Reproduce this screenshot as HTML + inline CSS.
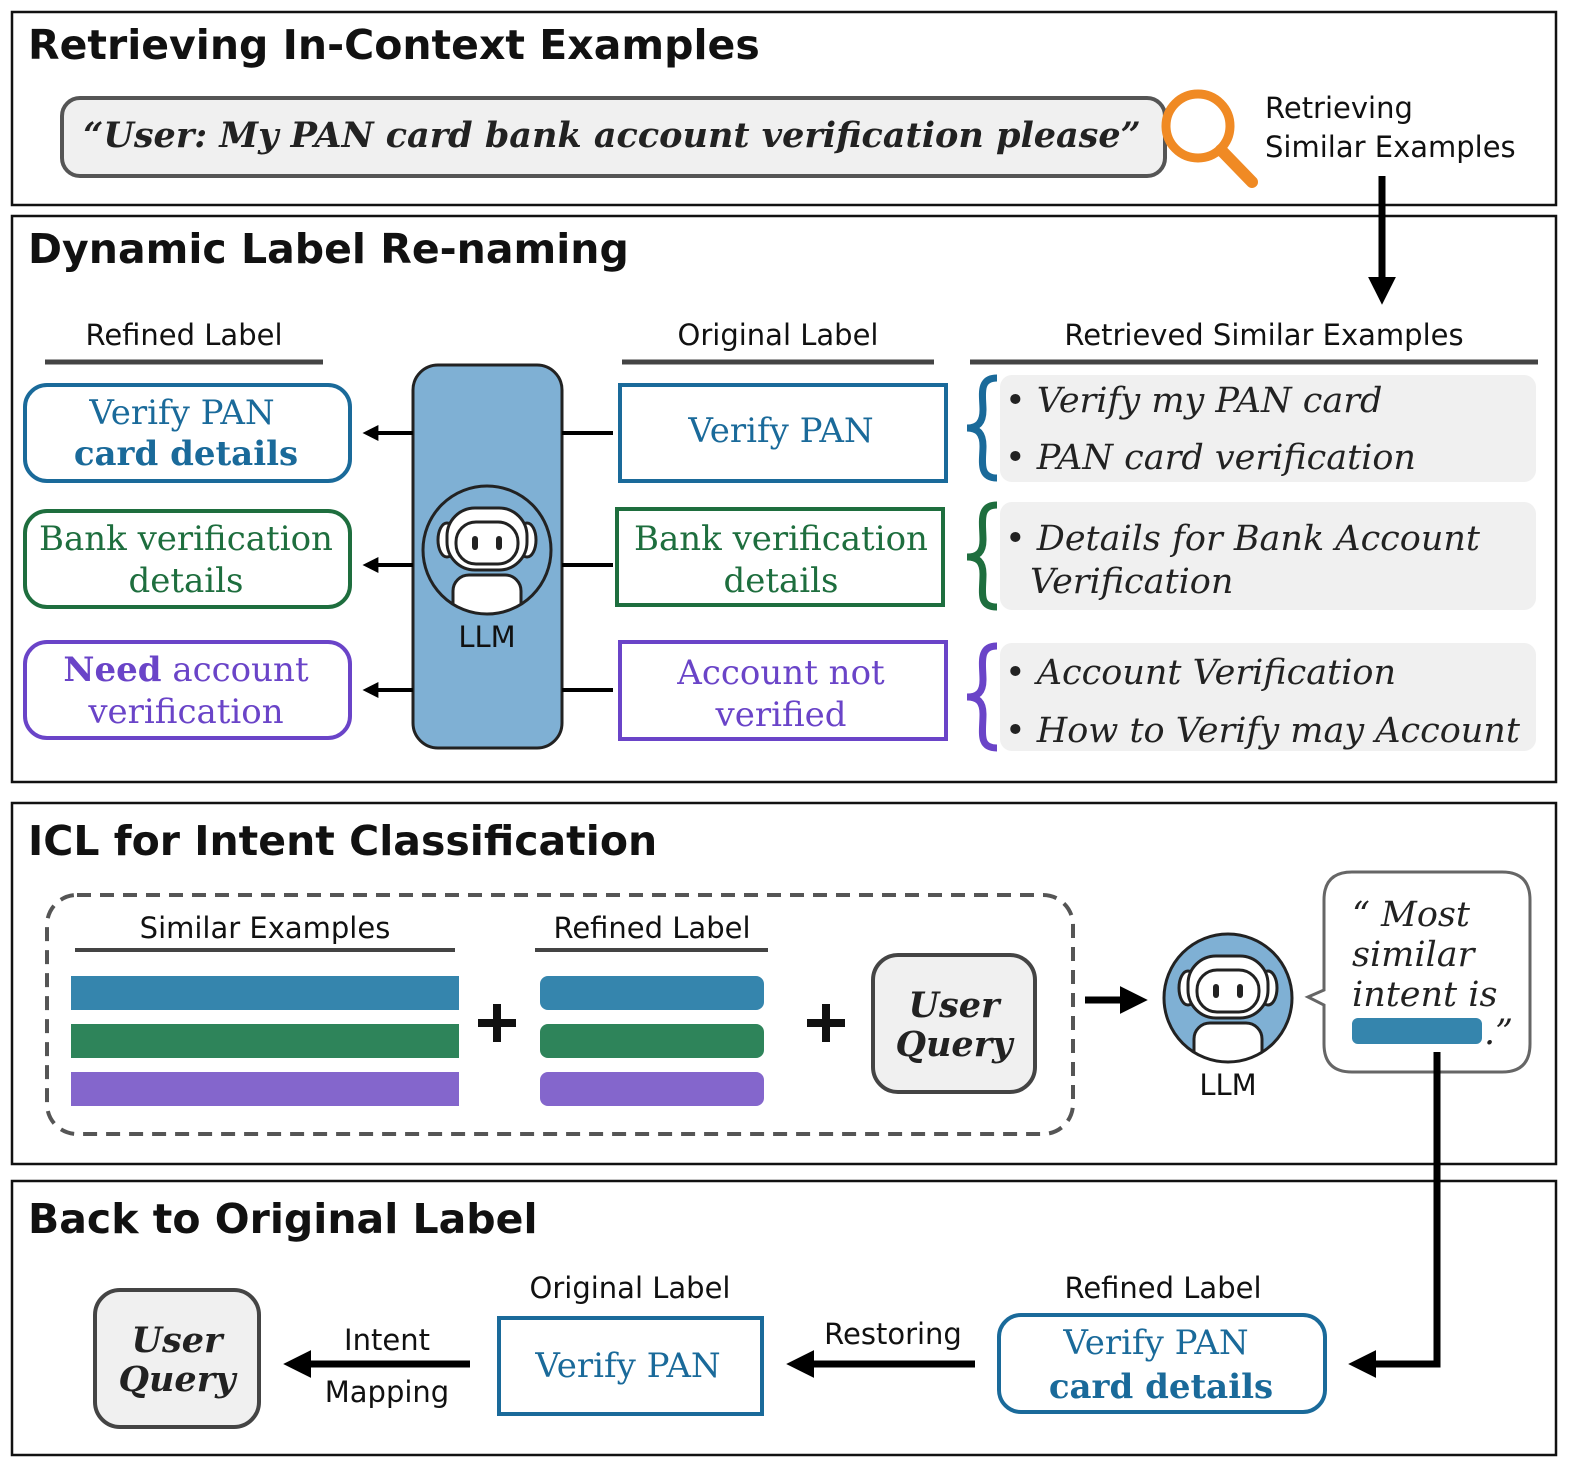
<!DOCTYPE html>
<html><head><meta charset="utf-8"><style>
html,body{margin:0;padding:0;background:#fff}
svg{display:block}
.h{font-family:"DejaVu Sans","Liberation Sans",sans-serif;font-weight:bold;font-size:41px;fill:#111}
.s{font-family:"DejaVu Sans","Liberation Sans",sans-serif;font-size:29px;fill:#111}
.sf{font-family:"DejaVu Serif","Liberation Serif",serif;font-size:34px}
.it{font-family:"DejaVu Serif","Liberation Serif",serif;font-style:italic;font-size:35px;fill:#222}
</style></head><body>
<svg width="1578" height="1480" viewBox="0 0 1578 1480" xmlns="http://www.w3.org/2000/svg">
<defs>
<marker id="ah" markerWidth="4" markerHeight="4" refX="2.6" refY="2" orient="auto" markerUnits="strokeWidth"><path d="M0,0 L4,2 L0,4 Z" fill="#000"/></marker>
<g id="robot">
<clipPath id="cc"><circle cx="0" cy="0" r="63"/></clipPath>
<g clip-path="url(#cc)" stroke="#222" stroke-width="3" fill="#fff">
<rect x="-34" y="25" width="68" height="60" rx="16"/>
</g>
<circle cx="0" cy="0" r="64" fill="none" stroke="#222" stroke-width="3"/>
<g stroke="#222" stroke-width="3" fill="#fff">
<ellipse cx="-40" cy="-10" rx="9" ry="17"/>
<ellipse cx="40" cy="-10" rx="9" ry="17"/>
<rect x="-40" y="-42" width="80" height="62" rx="28"/>
<rect x="-31" y="-28" width="62" height="42" rx="20"/>
</g>
<rect x="-15" y="-14" width="6" height="14" rx="3" fill="#222"/>
<rect x="9" y="-14" width="6" height="14" rx="3" fill="#222"/>
</g>
</defs>
<g fill="none" stroke="#111" stroke-width="2.5">
<rect x="12" y="12" width="1544" height="193"/>
<rect x="12" y="216" width="1544" height="566"/>
<rect x="12" y="803" width="1544" height="361"/>
<rect x="12" y="1181" width="1544" height="274"/>
</g>
<!-- Panel 1 -->
<text class="h" x="28" y="59">Retrieving In-Context Examples</text>
<rect x="62" y="98" width="1103" height="78" rx="18" fill="#f0f0f0" stroke="#555" stroke-width="4"/>
<text class="it" x="612" y="147" text-anchor="middle" font-weight="bold" font-size="32">“User: My PAN card bank account verification please”</text>
<circle cx="1198" cy="126" r="32" fill="none" stroke="#f08a24" stroke-width="9"/>
<line x1="1221" y1="150" x2="1252" y2="182" stroke="#f08a24" stroke-width="12" stroke-linecap="round"/>
<text class="s" x="1265" y="118">Retrieving</text>
<text class="s" x="1265" y="157">Similar Examples</text>
<line x1="1382" y1="176" x2="1382" y2="295" stroke="#000" stroke-width="7" marker-end="url(#ah)"/>
<!-- Panel 2 -->
<text class="h" x="28" y="263">Dynamic Label Re-naming</text>
<text class="s" x="184" y="345" text-anchor="middle">Refined Label</text>
<text class="s" x="778" y="345" text-anchor="middle">Original Label</text>
<text class="s" x="1264" y="345" text-anchor="middle">Retrieved Similar Examples</text>
<g stroke="#444" stroke-width="5">
<line x1="45" y1="362" x2="323" y2="362"/><line x1="622" y1="362" x2="934" y2="362"/><line x1="970" y1="362" x2="1538" y2="362"/>
</g>
<g fill="#fff" stroke-width="4">
<rect x="25" y="385" width="325" height="96" rx="22" stroke="#1a6a9a"/>
<rect x="25" y="511" width="325" height="96" rx="22" stroke="#1e6e3e"/>
<rect x="25" y="642" width="325" height="96" rx="22" stroke="#6a44c8"/>
<rect x="620" y="385" width="326" height="96" stroke="#1a6a9a"/>
<rect x="617" y="509" width="326" height="96" stroke="#1e6e3e"/>
<rect x="620" y="642" width="326" height="97" stroke="#6a44c8"/>
</g>
<text class="sf" x="182" y="424" text-anchor="middle" fill="#1a6a9a">Verify PAN</text>
<text class="sf" x="186" y="465" text-anchor="middle" fill="#1a6a9a" font-weight="bold">card details</text>
<text class="sf" x="186" y="550" text-anchor="middle" fill="#1e6e3e">Bank verification</text>
<text class="sf" x="186" y="592" text-anchor="middle" fill="#1e6e3e">details</text>
<text class="sf" x="186" y="681" text-anchor="middle" fill="#6a44c8"><tspan font-weight="bold">Need</tspan> account</text>
<text class="sf" x="186" y="723" text-anchor="middle" fill="#6a44c8">verification</text>
<text class="sf" x="781" y="442" text-anchor="middle" fill="#1a6a9a">Verify PAN</text>
<text class="sf" x="781" y="550" text-anchor="middle" fill="#1e6e3e">Bank verification</text>
<text class="sf" x="781" y="592" text-anchor="middle" fill="#1e6e3e">details</text>
<text class="sf" x="781" y="684" text-anchor="middle" fill="#6a44c8">Account not</text>
<text class="sf" x="781" y="726" text-anchor="middle" fill="#6a44c8">verified</text>
<rect x="413" y="365" width="149" height="383" rx="25" fill="#7fb0d4" stroke="#222" stroke-width="3"/>
<g transform="translate(487,550)"><use href="#robot"/></g>
<text class="s" x="487" y="647" text-anchor="middle" fill="#222">LLM</text>
<g stroke="#000" stroke-width="4">
<line x1="562" y1="433" x2="613" y2="433"/><line x1="562" y1="565" x2="613" y2="565"/><line x1="562" y1="690" x2="613" y2="690"/>
<line x1="413" y1="433" x2="368" y2="433" marker-end="url(#ah)"/>
<line x1="413" y1="565" x2="368" y2="565" marker-end="url(#ah)"/>
<line x1="413" y1="690" x2="368" y2="690" marker-end="url(#ah)"/>
</g>
<g fill="#f0f0f0">
<rect x="1000" y="375" width="536" height="107" rx="12"/>
<rect x="1000" y="502" width="536" height="108" rx="12"/>
<rect x="1000" y="643" width="536" height="108" rx="12"/>
</g>
<g fill="none" stroke-width="7">
<path d="M997,378 C978,378 983,396 983,410 C983,422 978,428 967,428 C978,428 983,434 983,446 C983,460 978,478 997,478" stroke="#1a6a9a"/>
<path d="M997,505 C978,505 983,523 983,540 C983,552 978,557 967,557 C978,557 983,562 983,574 C983,592 978,607 997,607" stroke="#1e6e3e"/>
<path d="M997,646 C978,646 983,664 983,680 C983,692 978,697 967,697 C978,697 983,702 983,714 C983,732 978,748 997,748" stroke="#6a44c8"/>
</g>
<text class="it" x="1005" y="412">• Verify my PAN card</text>
<text class="it" x="1005" y="469">• PAN card verification</text>
<text class="it" x="1005" y="550">• Details for Bank Account</text>
<text class="it" x="1030" y="593">Verification</text>
<text class="it" x="1005" y="684">• Account Verification</text>
<text class="it" x="1005" y="742">• How to Verify may Account</text>
<!-- Panel 3 -->
<text class="h" x="28" y="855">ICL for Intent Classification</text>
<rect x="47" y="895" width="1026" height="239" rx="30" fill="none" stroke="#555" stroke-width="4" stroke-dasharray="14,9"/>
<text class="s" x="265" y="938" text-anchor="middle">Similar Examples</text>
<text class="s" x="652" y="938" text-anchor="middle">Refined Label</text>
<g stroke="#444" stroke-width="4"><line x1="75" y1="950" x2="455" y2="950"/><line x1="535" y1="950" x2="768" y2="950"/></g>
<rect x="71" y="976" width="388" height="34" fill="#3585ad"/>
<rect x="71" y="1024" width="388" height="34" fill="#2e845a"/>
<rect x="71" y="1072" width="388" height="34" fill="#8466cc"/>
<rect x="540" y="976" width="224" height="34" rx="8" fill="#3585ad"/>
<rect x="540" y="1024" width="224" height="34" rx="8" fill="#2e845a"/>
<rect x="540" y="1072" width="224" height="34" rx="8" fill="#8466cc"/>
<g stroke="#111" stroke-width="8"><line x1="478" y1="1023" x2="516" y2="1023"/><line x1="497" y1="1004" x2="497" y2="1042"/>
<line x1="807" y1="1023" x2="845" y2="1023"/><line x1="826" y1="1004" x2="826" y2="1042"/></g>
<rect x="873" y="955" width="162" height="137" rx="25" fill="#f0f0f0" stroke="#444" stroke-width="4"/>
<text class="it" x="954" y="1017" text-anchor="middle" font-weight="bold" font-size="30">User</text>
<text class="it" x="954" y="1056" text-anchor="middle" font-weight="bold" font-size="30">Query</text>
<line x1="1085" y1="1000" x2="1138" y2="1000" stroke="#000" stroke-width="7" marker-end="url(#ah)"/>
<circle cx="1228" cy="998" r="64" fill="#7fb0d4"/>
<g transform="translate(1228,998)"><use href="#robot"/></g>
<text class="s" x="1228" y="1095" text-anchor="middle" fill="#222">LLM</text>
<path d="M1352,872 H1502 Q1530,872 1530,900 V1044 Q1530,1072 1502,1072 H1352 Q1324,1072 1324,1044 V1005 L1308,997 L1324,990 V900 Q1324,872 1352,872 Z" fill="#fff" stroke="#666" stroke-width="3"/>
<text class="it" x="1352" y="926" font-size="32">“ Most</text>
<text class="it" x="1352" y="966" font-size="32">similar</text>
<text class="it" x="1352" y="1006" font-size="32">intent is</text>
<rect x="1352" y="1018" width="130" height="26" rx="6" fill="#3585ad"/>
<text class="it" x="1484" y="1044" font-size="30">.”</text>
<!-- Panel 4 -->
<text class="h" x="28" y="1233">Back to Original Label</text>
<polyline points="1437,1052 1437,1364 1358,1364" fill="none" stroke="#000" stroke-width="7" marker-end="url(#ah)"/>
<rect x="95" y="1290" width="164" height="137" rx="25" fill="#f0f0f0" stroke="#444" stroke-width="4"/>
<text class="it" x="177" y="1352" text-anchor="middle" font-weight="bold" font-size="30">User</text>
<text class="it" x="177" y="1391" text-anchor="middle" font-weight="bold" font-size="30">Query</text>
<line x1="470" y1="1364" x2="293" y2="1364" stroke="#000" stroke-width="7" marker-end="url(#ah)"/>
<text class="s" x="387" y="1350" text-anchor="middle">Intent</text>
<text class="s" x="387" y="1402" text-anchor="middle">Mapping</text>
<text class="s" x="630" y="1298" text-anchor="middle">Original Label</text>
<rect x="499" y="1318" width="263" height="96" fill="#fff" stroke="#1a6a9a" stroke-width="4"/>
<text class="sf" x="628" y="1377" text-anchor="middle" fill="#1a6a9a">Verify PAN</text>
<line x1="975" y1="1364" x2="796" y2="1364" stroke="#000" stroke-width="7" marker-end="url(#ah)"/>
<text class="s" x="893" y="1344" text-anchor="middle">Restoring</text>
<text class="s" x="1163" y="1298" text-anchor="middle">Refined Label</text>
<rect x="999" y="1315" width="326" height="97" rx="22" fill="#fff" stroke="#1a6a9a" stroke-width="4"/>
<text class="sf" x="1156" y="1354" text-anchor="middle" fill="#1a6a9a">Verify PAN</text>
<text class="sf" x="1161" y="1398" text-anchor="middle" fill="#1a6a9a" font-weight="bold">card details</text>
</svg>
</body></html>
